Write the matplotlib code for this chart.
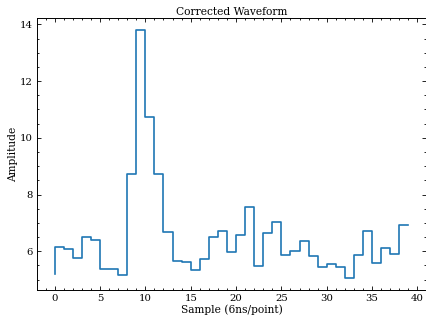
import matplotlib
matplotlib.use("Agg")
import matplotlib.pyplot as plt
import numpy as np
from matplotlib.ticker import AutoMinorLocator

samples = list(range(40))
amplitude = [5.20, 6.14, 6.08, 5.78, 6.49, 6.40, 5.39, 5.38, 5.18, 8.71,
             13.79, 10.73, 8.71, 6.68, 5.67, 5.61, 5.34, 5.74, 6.52, 6.73,
             5.96, 6.59, 7.56, 5.47, 6.66, 7.04, 5.87, 6.00, 6.36, 5.84,
             5.45, 5.54, 5.44, 5.07, 5.86, 6.71, 5.58, 6.13, 5.92, 6.93]

title = "Corrected Waveform"
xlabel = "Sample (6ns/point)"
ylabel = "Amplitude"

plt.rcParams['font.family'] = ['DejaVu Serif']
plt.rcParams['font.size'] = 7.7

fig = plt.figure(figsize=(4.27, 3.15), dpi=100)
ax = fig.add_axes([37/427, 1 - 290/315, (426 - 37)/427, (290 - 18)/315])
ax.step(samples, amplitude, where='pre', color='#1f77b4', linewidth=1.2)

ax.set_title(title, fontsize=7.7, pad=2)
ax.set_xlabel(xlabel, fontsize=7.7, labelpad=1)
ax.set_ylabel(ylabel, fontsize=7.7, labelpad=1.5)

ax.xaxis.set_minor_locator(AutoMinorLocator(5))
ax.yaxis.set_minor_locator(AutoMinorLocator(4))
ax.tick_params(which='both', direction='in', top=True, right=True, width=0.6, labelsize=7.3)
ax.tick_params(which='major', length=3, pad=3)
ax.tick_params(which='minor', length=1.5)
for s in ax.spines.values():
    s.set_linewidth(0.7)

fig.savefig("out.png", dpi=100)
